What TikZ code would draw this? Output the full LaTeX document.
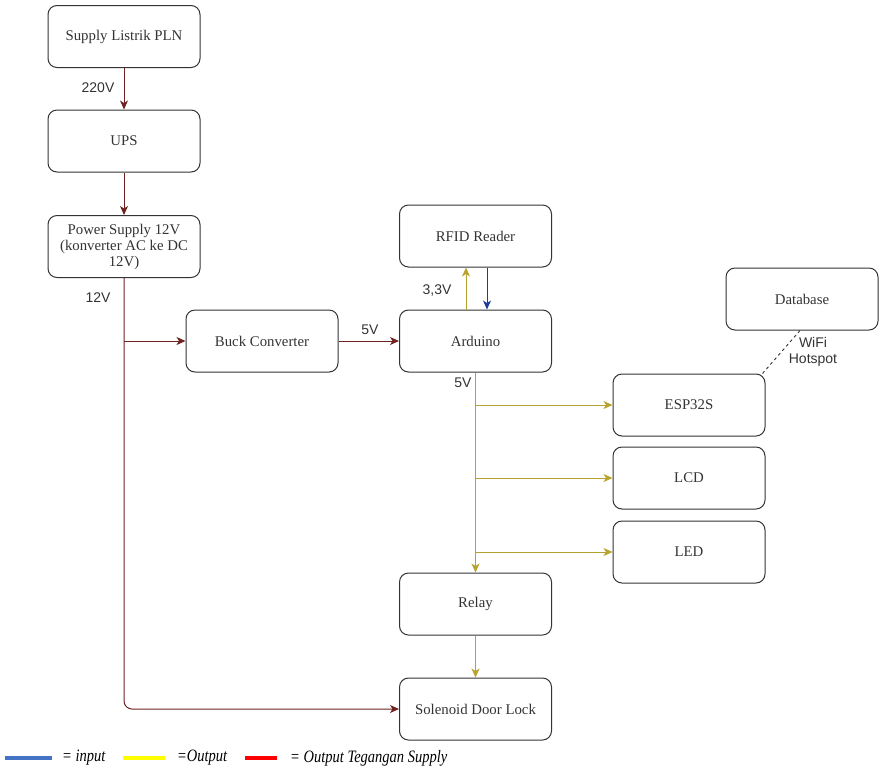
\documentclass[tikz,border=0pt]{standalone}
\usepackage{graphicx}
\usepackage{fontspec}
\setmainfont{Liberation Serif}
\newfontfamily\lblfont{Liberation Sans}
\usetikzlibrary{arrows.meta}
\definecolor{pwr}{HTML}{6E2222}
\definecolor{outc}{HTML}{B8A22E}
\definecolor{inc}{HTML}{1C3C9C}
\definecolor{boxc}{HTML}{333333}
\definecolor{txt}{HTML}{333333}
\definecolor{lgblue}{HTML}{4472C4}
\definecolor{lgyellow}{HTML}{FFFF00}
\definecolor{lgred}{HTML}{FF0000}
\newcommand{\lgtxt}[1]{\scalebox{1}[1.2]{#1}}
\begin{document}
\begin{tikzpicture}[x=1pt,y=-1pt,
  box/.style={draw=boxc, line width=1pt, rounded corners=9pt, minimum width=152pt, minimum height=62pt, align=center, font=\fontsize{14.8}{16}\selectfont, text=txt, inner sep=2pt},
  tip/.style={-{Stealth[length=9pt,width=8pt,inset=2.5pt]}},
  pw/.style={draw=pwr, line width=1pt, tip},
  yl/.style={draw=outc, line width=1pt, tip},
  bl/.style={draw=inc, line width=1pt, tip},
  lbl/.style={font=\lblfont\fontsize{14}{15.5}\selectfont, text=txt, inner sep=0pt},
  lg/.style={font=\itshape\fontsize{14.5}{17}\selectfont, text=black, anchor=west, inner sep=0pt},
  lgline/.style={line width=3.5pt}]
\useasboundingbox (0,0) rectangle (880,772);

\node[box] (pln) at (124,36.5) {Supply Listrik PLN};
\node[box] (ups) at (124,141) {UPS};
\node[box] (ps) at (124,246.5) {Power Supply 12V\\(konverter AC ke DC\\12V)};
\node[box] (buck) at (262,341) {Buck Converter};
\node[box] (rfid) at (475.5,236) {RFID Reader};
\node[box] (ard) at (475.5,341) {Arduino};
\node[box] (db) at (802,299) {Database};
\node[box] (esp) at (689,405) {ESP32S};
\node[box] (lcd) at (689,478) {LCD};
\node[box] (led) at (689,552) {LED};
\node[box] (relay) at (475.5,604) {Relay};
\node[box] (sol) at (475.5,709) {Solenoid Door Lock};

% power lines
\draw[pw] (pln) -- (ups);
\node[lbl] (l220) at (98,88) {220V};
\draw[pw] (ups) -- (ps);
\draw[pw, rounded corners=8pt] (ps.south) |- (sol.west);
\node[lbl] (l12) at (98,298) {12V};
\coordinate (j1) at (124,341);
\draw[pw] (j1) -- (buck.west);
\draw[pw] (buck) -- (ard);
\node[lbl] (l5a) at (370,330) {5V};

% RFID
\draw[yl] ([xshift=-9.5pt]ard.north) -- ([xshift=-9.5pt]rfid.south);
\draw[bl] ([xshift=11.5pt]rfid.south) -- ([xshift=11.5pt]ard.north);
\node[lbl] (l33) at (437,290) {3,3V};

% Arduino outputs
\draw[yl] (ard.south) -- (relay.north);
\node[lbl] (l5b) at (463,383) {5V};
\coordinate (b1) at (475.5,405);
\coordinate (b2) at (475.5,478);
\coordinate (b3) at (475.5,552);
\draw[yl] (b1) -- (esp.west);
\draw[yl] (b2) -- (lcd.west);
\draw[yl] (b3) -- (led.west);
\draw[yl] (relay) -- (sol);

% WiFi
\draw[dashed, line width=0.9pt, draw=boxc] ([xshift=-3pt]esp.north east) -- ([xshift=-2pt]db.south);
\node[lbl, align=center] (wifi) at (813,352) {WiFi\\Hotspot};

% legend
\coordinate (lb1) at (5,758); \coordinate (lb2) at (52,758);
\draw[lgline, lgblue] (lb1) -- (lb2);
\node[lg] (lgi) at (62,758) {\lgtxt{= input}};
\coordinate (ly1) at (123,758); \coordinate (ly2) at (165,758);
\draw[lgline, lgyellow] (ly1) -- (ly2);
\node[lg] (lgo) at (177,758) {\lgtxt{=Output}};
\coordinate (lr1) at (245,758); \coordinate (lr2) at (277,758);
\draw[lgline, lgred] (lr1) -- (lr2);
\node[lg] (lgs) at (290,758) {\lgtxt{= Output Tegangan Supply}};
\end{tikzpicture}
\end{document}
